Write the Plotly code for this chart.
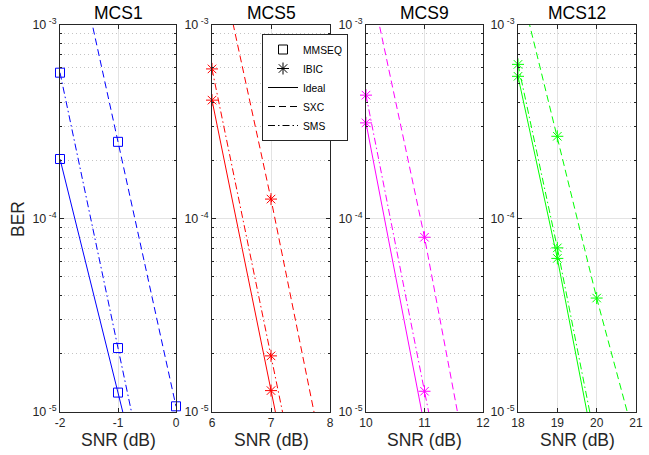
import plotly.graph_objects as go

# ---------------- data ----------------
panel_titles = ["MCS1", "MCS5", "MCS9", "MCS12"]
panel_colors = ["#0000FF", "#FF0000", "#FF00FF", "#00FF00"]
panel_xticks = [[-2, -1, 0], [6, 7, 8], [10, 11, 12], [18, 19, 20, 21]]

snr_mcs1 = [-2, -1, 0]
ideal_mcs1 = [2.03e-4, 1.26e-5, 7.8e-7]
sxc_mcs1 = [5.8e-3, 2.49e-4, 1.07e-5]
sms_mcs1 = [5.67e-4, 2.14e-5, 8.1e-7]

snr_mcs5 = [6, 7, 8]
ideal_mcs5 = [4.09e-4, 1.29e-5, 4.1e-7]
sxc_mcs5 = [3.23e-3, 1.26e-4, 3.9e-6]
sms_mcs5 = [5.93e-4, 1.95e-5, 6.4e-7]

snr_mcs9 = [10, 11, 12]
ideal_mcs9 = [3.12e-4, 8.5e-6, 2.3e-7]
sxc_mcs9 = [2.11e-3, 8.0e-5, 2.0e-6]
sms_mcs9 = [4.34e-4, 1.28e-5, 4.0e-7]

snr_mcs12 = [18, 19, 20, 21]
ideal_mcs12 = [5.43e-4, 6.22e-5, 5.5e-6, None]
sxc_mcs12 = [1.76e-3, 2.66e-4, 3.88e-5, 6.8e-6]
sms_mcs12 = [6.26e-4, 7.05e-5, 6.6e-6, None]

panel_snr = [snr_mcs1, snr_mcs5, snr_mcs9, snr_mcs12]
panel_series = [
    {"Ideal": ideal_mcs1, "SXC": sxc_mcs1, "SMS": sms_mcs1},
    {"Ideal": ideal_mcs5, "SXC": sxc_mcs5, "SMS": sms_mcs5},
    {"Ideal": ideal_mcs9, "SXC": sxc_mcs9, "SMS": sms_mcs9},
    {"Ideal": ideal_mcs12, "SXC": sxc_mcs12, "SMS": sms_mcs12},
]
panel_detector = ["MMSEQ", "IBIC", "IBIC", "IBIC"]

y_tickvals = [1e-5, 1e-4, 1e-3]
y_ticktext = ["10<sup> -5</sup>", "10<sup> -4</sup>", "10<sup> -3</sup>"]
y_minor = [m * 10.0 ** e for e in (-5, -4) for m in range(2, 10)]
BER_MIN, BER_MAX = 1e-5, 1e-3

# ---------------- styling ----------------
W, H = 649, 455
FONT = "Liberation Sans, Arial, Helvetica, sans-serif"
AX = "#262626"
dash_styles = {"Ideal": "solid", "SXC": "7px,4px", "SMS": "7px,3px,1.5px,3px"}
marker_sym = {"MMSEQ": "square-open", "IBIC": "asterisk-open"}
marker_size = {"MMSEQ": 9, "IBIC": 10}

x_px = [(60, 176), (212, 330), (366, 483), (518, 636)]
y_top_px, y_bot_px = 25, 412
y_domain = [1 - y_bot_px / H, 1 - y_top_px / H]

fig = go.Figure()
layout = {}
annotations = []

for i in range(4):
    n = "" if i == 0 else str(i + 1)
    xref, yref = "x" + n, "y" + n
    color = panel_colors[i]
    snr = panel_snr[i]
    det = panel_detector[i]
    for name in ["Ideal", "SXC", "SMS"]:
        vals = panel_series[i][name]
        fig.add_trace(go.Scatter(
            x=snr, y=vals, mode="lines", xaxis=xref, yaxis=yref,
            line=dict(color=color, width=1, dash=dash_styles[name]),
            showlegend=False, hoverinfo="skip", cliponaxis=True,
        ))
    for name in ["Ideal", "SXC", "SMS"]:
        vals = panel_series[i][name]
        mx = [s for s, v in zip(snr, vals) if v is not None and BER_MIN * 0.999 <= v <= BER_MAX]
        my = [v for v in vals if v is not None and BER_MIN * 0.999 <= v <= BER_MAX]
        fig.add_trace(go.Scatter(
            x=mx, y=my, mode="markers", xaxis=xref, yaxis=yref,
            marker=dict(symbol=marker_sym[det], size=marker_size[det], color=color,
                        line=dict(color=color, width=1)),
            showlegend=False, cliponaxis=False,
        ))
    xt = panel_xticks[i]
    layout["xaxis" + n] = dict(
        domain=[x_px[i][0] / W, x_px[i][1] / W], anchor=yref,
        range=[xt[0], xt[-1]], tickvals=xt, ticktext=[str(v) for v in xt],
        ticks="inside", ticklen=4, tickcolor=AX, showline=True, linecolor=AX,
        linewidth=1, mirror="ticks", showgrid=True, gridcolor="#e3e3e3",
        gridwidth=1, zeroline=False, automargin=False,
        tickfont=dict(family=FONT, size=12, color=AX),
    )
    layout["yaxis" + n] = dict(
        domain=y_domain, anchor=xref, type="log", range=[-5, -3],
        tickvals=y_tickvals, ticktext=y_ticktext,
        ticks="inside", ticklen=4, tickcolor=AX, showline=True, linecolor=AX,
        linewidth=1, mirror="ticks", showgrid=True, gridcolor="#e3e3e3",
        gridwidth=1, zeroline=False, automargin=False,
        tickfont=dict(family=FONT, size=12.5, color=AX),
        minor=dict(tickvals=y_minor, ticks="inside", ticklen=2, tickcolor=AX,
                   showgrid=True, gridcolor="#c4c4c4", griddash="1px,3px", gridwidth=1),
    )
    xc = (x_px[i][0] + x_px[i][1]) / 2 / W
    annotations.append(dict(text=panel_titles[i], x=xc, y=1 - 13 / H, xref="paper", yref="paper",
                            xanchor="center", yanchor="middle", showarrow=False,
                            font=dict(family=FONT, size=17.5, color="#000000")))
    annotations.append(dict(text="SNR (dB)", x=xc, y=1 - 440 / H, xref="paper", yref="paper",
                            xanchor="center", yanchor="middle", showarrow=False,
                            font=dict(family=FONT, size=17.5, color=AX)))

annotations.append(dict(text="BER", x=18 / W, y=1 - 219 / H, xref="paper", yref="paper",
                        xanchor="center", yanchor="middle", showarrow=False, textangle=-90,
                        font=dict(family=FONT, size=17.5, color=AX)))

# legend entries
legend_entries = [
    ("MMSEQ", dict(mode="markers", marker=dict(symbol="square-open", size=9, color="black",
                                                line=dict(color="black", width=1)))),
    ("IBIC", dict(mode="markers", marker=dict(symbol="asterisk-open", size=10, color="black",
                                               line=dict(color="black", width=1)))),
    ("Ideal", dict(mode="lines", line=dict(color="black", width=1, dash=dash_styles["Ideal"]))),
    ("SXC", dict(mode="lines", line=dict(color="black", width=1, dash=dash_styles["SXC"]))),
    ("SMS", dict(mode="lines", line=dict(color="black", width=1, dash=dash_styles["SMS"]))),
]
for name, kw in legend_entries:
    fig.add_trace(go.Scatter(x=[None], y=[None], name=name, xaxis="x", yaxis="y",
                             showlegend=True, **kw))

fig.update_layout(
    width=W, height=H, margin=dict(l=0, r=0, t=0, b=0),
    paper_bgcolor="white", plot_bgcolor="white",
    font=dict(family=FONT, color=AX),
    annotations=annotations,
    showlegend=True,
    legend=dict(x=262 / W, y=1 - 34 / H, xanchor="left", yanchor="top",
                bgcolor="white", bordercolor=AX, borderwidth=1,
                font=dict(family=FONT, size=10.3, color="#000000"),
                tracegroupgap=0, itemwidth=30),
    **layout,
)

fig.write_html("out.html", config={"displayModeBar": False},
               post_script="document.body.style.margin='0px';document.body.style.padding='0px';")
